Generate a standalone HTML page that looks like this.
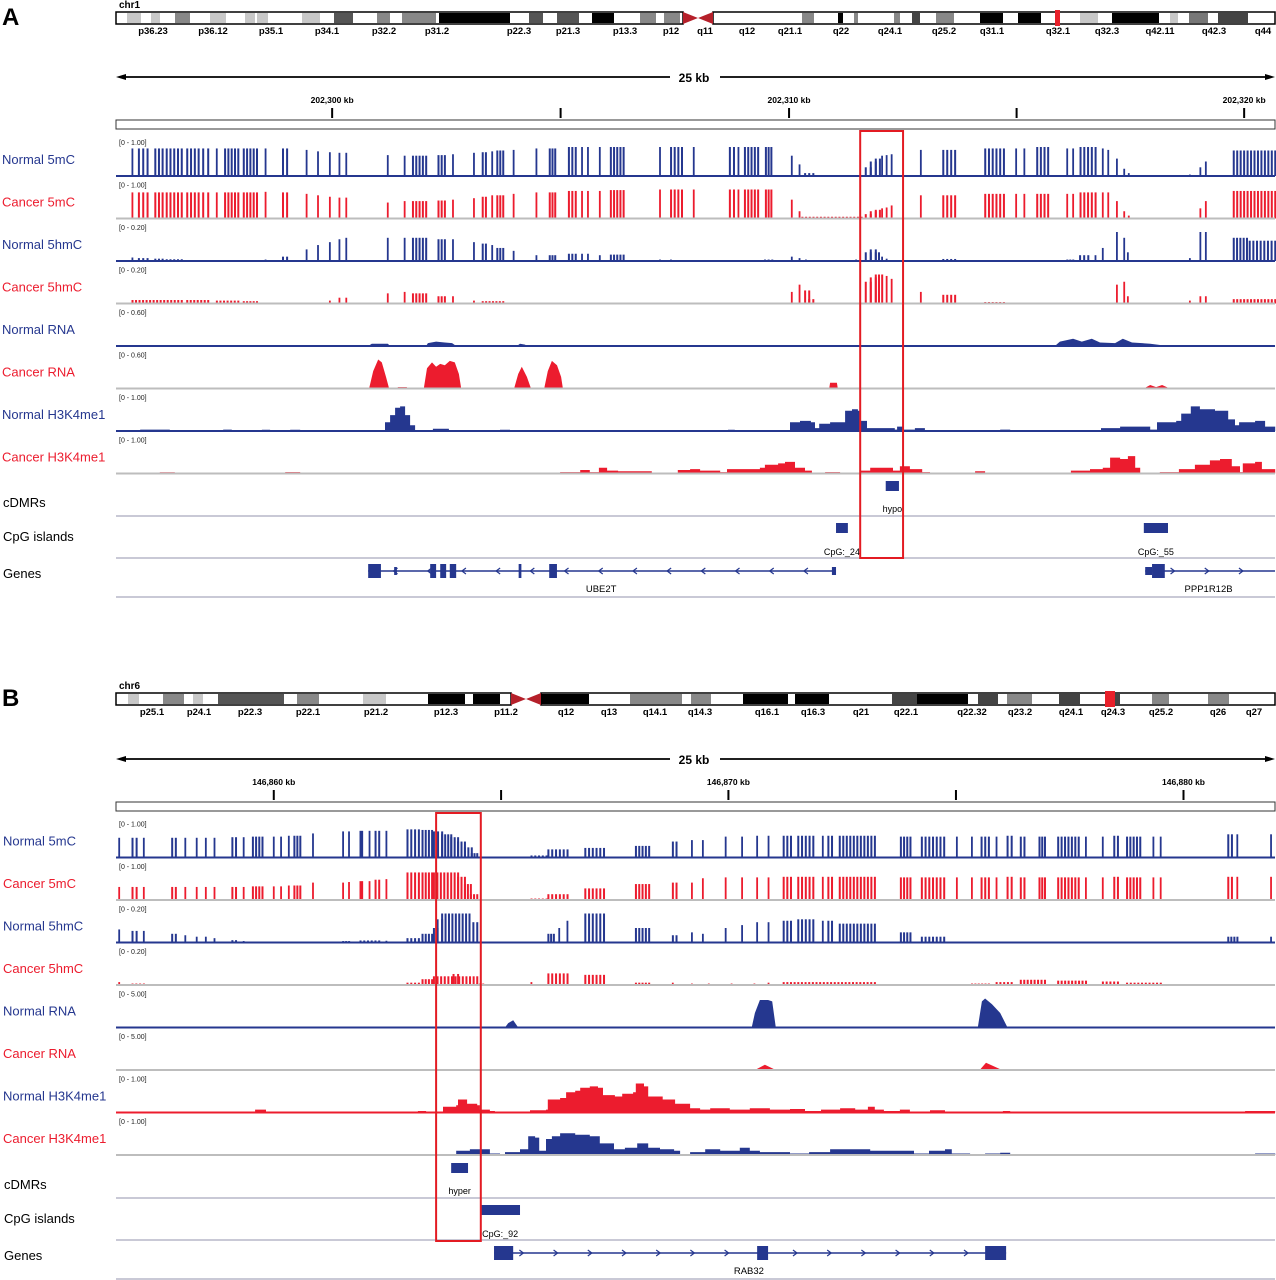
<!DOCTYPE html>
<html><head><meta charset="utf-8">
<style>
html,body{margin:0;padding:0;background:#fff;}
svg{display:block;font-family:"Liberation Sans",Arial,sans-serif;}
</style></head>
<body>
<svg id="fig" width="1276" height="1280" viewBox="0 0 1276 1280" xmlns="http://www.w3.org/2000/svg">
<rect x="0" y="0" width="1276" height="1280" fill="#fff"/>
<text x="2" y="25" font-size="24" font-weight="bold">A</text>
<text x="2" y="706" font-size="24" font-weight="bold">B</text>
<g id="root"></g>
</svg>
<script>
// ===== DATA (positions in kb from left edge of view, values as fraction of track range) =====
const rulerA = ["202,300 kb","202,310 kb","202,320 kb"];
const rulerAKb = [4.74,14.76,24.74];
const rulerB = ["146,860 kb","146,870 kb","146,880 kb"];
const rulerBKb = [3.46,13.43,23.41];
const trackNamesA = ["Normal 5mC","Cancer 5mC","Normal 5hmC","Cancer 5hmC","Normal RNA","Cancer RNA","Normal H3K4me1","Cancer H3K4me1"];
const trackRangesA = ["[0 - 1.00]","[0 - 1.00]","[0 - 0.20]","[0 - 0.20]","[0 - 0.60]","[0 - 0.60]","[0 - 1.00]","[0 - 1.00]"];
const trackNamesB = ["Normal 5mC","Cancer 5mC","Normal 5hmC","Cancer 5hmC","Normal RNA","Cancer RNA","Normal H3K4me1","Cancer H3K4me1"];
const trackRangesB = ["[0 - 1.00]","[0 - 1.00]","[0 - 0.20]","[0 - 0.20]","[0 - 5.00]","[0 - 5.00]","[0 - 1.00]","[0 - 1.00]"];

const normal5mcA = [[.36,.36,.95],[.50,.69,.95],[.86,1.02,.95],[1.11,1.44,.95],[1.56,1.81,.95],[1.91,2.02,.95],[2.21,2.21,.95],[2.39,2.68,.95],[2.80,3.09,.95],[3.28,3.28,.95],[3.66,3.75,.95],[4.18,4.18,.9],[4.43,4.43,.85],[4.69,4.69,.82],[4.90,4.90,.8],[5.05,5.05,.8],[5.96,5.96,.72],[6.33,6.33,.7],[6.51,6.80,.7],[7.07,7.21,.72],[7.39,7.39,.75],[7.85,7.85,.8],[8.04,8.11,.82],[8.25,8.25,.85],[8.36,8.49,.88],[8.72,8.72,.9],[9.22,9.22,.95],[9.51,9.63,.95],[9.93,10.08,1],[10.22,10.22,1],[10.35,10.35,1],[10.61,10.61,1],[10.85,11.13,1],[11.93,11.93,1],[12.17,12.41,1],[12.67,12.67,1],[13.46,13.55,1],[13.65,13.65,1],[13.79,14.08,1],[14.25,14.37,1],[14.82,14.82,.7],[14.99,14.99,.4],[15.11,15.29,.1],[16.44,16.55,.3],[16.55,16.66,.5],[16.66,16.75,.6],[16.80,16.80,.7],[16.90,16.90,.72],[17.01,17.01,.75],[17.65,17.65,.9],[18.14,18.40,.9],[19.06,19.47,.95],[19.74,19.74,.95],[19.92,19.92,.95],[20.20,20.44,1],[20.86,20.86,.95],[20.99,20.99,.95],[21.15,21.48,1],[21.64,21.64,.95],[21.76,21.76,.9],[21.95,21.95,.6],[22.11,22.11,.25],[22.21,22.21,.1],[23.55,23.55,.05],[23.78,23.78,.3],[23.90,23.90,.5],[24.51,25.42,.88]];
const cancer5mcA = [[.36,.36,.9],[.50,.69,.9],[.86,1.02,.9],[1.11,1.44,.9],[1.56,1.81,.9],[1.91,2.02,.9],[2.21,2.21,.9],[2.39,2.68,.9],[2.80,3.09,.9],[3.28,3.28,.92],[3.66,3.75,.9],[4.18,4.18,.85],[4.43,4.43,.8],[4.69,4.69,.75],[4.90,4.90,.72],[5.05,5.05,.72],[5.96,5.96,.55],[6.33,6.33,.6],[6.51,6.80,.6],[7.07,7.21,.62],[7.39,7.39,.65],[7.85,7.85,.7],[8.04,8.11,.75],[8.25,8.25,.8],[8.36,8.49,.8],[8.72,8.72,.85],[9.22,9.22,.9],[9.51,9.63,.9],[9.93,10.08,.95],[10.22,10.22,.95],[10.35,10.35,.95],[10.61,10.61,.95],[10.85,11.13,.98],[11.93,11.93,1],[12.17,12.41,1],[12.67,12.67,1],[13.46,13.55,1],[13.65,13.65,1],[13.79,14.08,1],[14.25,14.37,1],[14.82,14.82,.65],[14.99,14.99,.25],[15.05,16.35,.06],[16.44,16.55,.15],[16.55,16.66,.25],[16.66,16.75,.3],[16.80,16.80,.35],[16.90,16.90,.38],[17.01,17.01,.45],[17.65,17.65,.8],[18.14,18.40,.8],[19.06,19.47,.85],[19.74,19.74,.85],[19.92,19.92,.85],[20.20,20.44,.85],[20.86,20.86,.85],[20.99,20.99,.85],[21.15,21.48,.9],[21.64,21.64,.9],[21.76,21.76,.9],[21.95,21.95,.6],[22.11,22.11,.25],[22.21,22.21,.1],[23.55,23.55,.03],[23.78,23.78,.35],[23.90,23.90,.6],[24.51,25.42,.95]];
const normal5hmcA = [[.36,.36,.12],[.50,.69,.1],[.86,1.02,.08],[1.11,1.44,.06],[3.28,3.28,.05],[3.66,3.75,.15],[4.18,4.18,.4],[4.43,4.43,.55],[4.69,4.69,.65],[4.90,4.90,.75],[5.05,5.05,.8],[5.96,5.96,.8],[6.33,6.33,.8],[6.51,6.80,.8],[7.07,7.21,.75],[7.39,7.39,.75],[7.85,7.85,.65],[8.04,8.11,.6],[8.25,8.25,.55],[8.36,8.49,.45],[8.72,8.72,.35],[9.22,9.22,.2],[9.51,9.63,.2],[9.93,10.08,.25],[10.22,10.22,.25],[10.35,10.35,.25],[10.61,10.61,.2],[10.85,11.13,.22],[11.93,11.93,.05],[12.17,12.17,.05],[14.23,14.39,.05],[14.82,14.82,.15],[14.99,14.99,.1],[15.13,15.13,.05],[16.23,16.23,.05],[16.44,16.55,.3],[16.55,16.66,.4],[16.66,16.73,.3],[16.80,16.80,.15],[16.90,16.90,.08],[18.14,18.40,.07],[19.06,19.06,.03],[20.86,20.99,.05],[21.14,21.32,.2],[21.48,21.48,.2],[21.64,21.64,.45],[21.95,21.95,1.0],[22.11,22.11,.8],[22.19,22.19,.3],[23.55,23.55,.1],[23.78,23.78,1.0],[23.90,23.90,1.0],[24.51,24.80,.8],[24.86,25.42,.7]];
const cancer5hmcA = [[.36,1.44,.12],[1.56,2.02,.12],[2.21,2.68,.1],[2.80,3.09,.08],[3.66,3.75,.03],[4.43,4.43,.03],[4.69,4.69,.1],[4.90,4.90,.2],[5.05,5.05,.2],[5.96,5.96,.35],[6.33,6.33,.4],[6.51,6.80,.35],[7.07,7.21,.25],[7.39,7.39,.25],[7.85,7.85,.1],[8.04,8.49,.08],[8.72,8.72,.03],[14.82,14.82,.4],[14.99,14.99,.65],[15.11,15.20,.45],[15.20,15.29,.15],[16.44,16.55,.75],[16.55,16.66,.9],[16.66,16.80,1.0],[16.90,16.90,.95],[17.01,17.01,.85],[17.65,17.65,.4],[18.14,18.40,.3],[19.06,19.47,.05],[21.95,21.95,.65],[22.11,22.11,.75],[22.19,22.19,.25],[23.40,23.40,.03],[23.55,23.55,.1],[23.78,23.78,.25],[23.90,23.90,.25],[24.51,25.42,.15]];
const normalRnaA = [[5.53,0],[5.61,.08],[5.96,.08],[6.01,0],[6.80,0],[6.84,.1],[7.02,.15],[7.21,.12],[7.37,.1],[7.46,0],[8.79,0],[8.86,.08],[8.97,.05],[9.01,0],[20.59,0],[20.70,.15],[20.99,.25],[21.18,.15],[21.40,.25],[21.58,.12],[21.91,.1],[22.08,.25],[22.28,.12],[22.68,.08],[23.07,0]];
const cancerRnaA = [[5.55,0],[5.64,.6],[5.75,1.0],[5.83,.9],[5.92,.4],[5.99,0],[6.18,0],[6.18,.05],[6.38,.05],[6.38,0],[6.75,0],[6.82,.7],[6.93,.9],[7.02,.75],[7.11,.85],[7.21,.8],[7.32,.95],[7.43,.9],[7.52,.5],[7.57,0],[8.73,0],[8.82,.5],[8.90,.75],[9.01,.4],[9.10,0],[9.39,0],[9.47,.6],[9.56,.95],[9.67,.8],[9.76,.4],[9.80,0],[15.64,0],[15.66,.2],[15.81,.2],[15.83,0],[22.54,0],[22.68,.12],[22.81,.05],[22.94,.12],[23.11,0]];
const normalH3A = [[0,0],[.53,.05],[.96,.05],[1.18,0],[2.35,.05],[2.54,0],[3.20,.04],[3.38,0],[3.82,.04],[4.04,0],[4.69,.03],[5.02,0],[5.86,0],[5.90,.3],[6.01,.55],[6.12,.8],[6.23,.85],[6.34,.55],[6.45,.2],[6.56,0],[6.95,.08],[7.26,.08],[7.30,0],[8.42,.04],[8.64,0],[13.36,0],[13.42,.04],[13.57,0],[14.69,0],[14.78,.3],[15.00,.35],[15.24,.3],[15.33,.1],[15.42,.25],[15.66,.3],[15.88,.3],[15.99,.7],[16.14,.75],[16.27,.7],[16.32,.35],[16.47,.1],[16.75,.1],[17.08,.05],[17.13,.15],[17.26,.05],[17.52,.1],[17.74,0],[19.39,.05],[19.61,0],[21.60,.1],[22.02,.15],[22.46,.15],[22.68,.05],[22.83,.3],[23.25,.35],[23.36,.6],[23.57,.85],[23.77,.75],[24.10,.7],[24.39,.4],[24.54,.2],[24.63,.3],[24.98,.35],[25.20,.15],[25.42,.1]];
const cancerH3A = [[0,.03],[.20,0],[.96,.04],[1.29,0],[3.71,.05],[4.04,0],[9.58,0],[9.74,.05],[10.07,.05],[10.18,.12],[10.39,.05],[10.59,.2],[10.77,.1],[11.01,.08],[11.49,.08],[11.75,0],[12.32,.12],[12.59,.15],[12.81,.1],[13.25,.05],[13.40,.15],[13.79,.15],[14.12,.2],[14.23,.3],[14.52,.35],[14.67,.4],[14.89,.2],[15.11,.1],[15.26,0],[15.55,.05],[15.88,0],[16.32,.1],[16.54,.2],[16.75,.2],[17.04,.1],[17.19,.25],[17.41,.15],[17.68,.05],[17.85,0],[18.84,.08],[19.06,0],[20.94,.1],[21.36,.15],[21.64,.2],[21.80,.55],[22.02,.5],[22.19,.6],[22.35,.2],[22.46,0],[22.89,.05],[23.31,.15],[23.66,.3],[23.99,.45],[24.21,.5],[24.47,.25],[24.65,.05],[24.71,.35],[24.98,.4],[25.13,.15],[25.42,.1]];

const normal5mcB = [[.07,.07,.68],[.36,.45,.68],[.61,.61,.68],[1.23,1.31,.68],[1.52,1.52,.68],[1.77,1.77,.68],[1.97,1.97,.68],[2.16,2.16,.68],[2.55,2.63,.7],[2.80,2.80,.7],[3.00,3.21,.72],[3.46,3.46,.72],[3.62,3.62,.72],[3.79,3.79,.75],[3.91,4.04,.75],[4.32,4.32,.83],[4.98,4.98,.9],[5.11,5.11,.9],[5.36,5.40,.92],[5.56,5.56,.92],[5.69,5.77,.92],[5.93,5.93,.92],[6.39,6.64,.97],[6.72,6.93,.95],[6.97,7.15,.9],[7.15,7.35,.8],[7.35,7.50,.7],[7.50,7.65,.55],[7.65,7.80,.35],[7.80,7.92,.15],[9.11,9.44,.07],[9.48,9.90,.28],[10.29,10.70,.33],[11.40,11.69,.4],[12.21,12.29,.55],[12.63,12.63,.6],[12.87,12.87,.6],[13.37,13.37,.72],[13.73,13.73,.72],[14.06,14.06,.75],[14.31,14.31,.75],[14.64,14.80,.75],[14.96,15.29,.75],[15.50,15.50,.75],[15.62,15.70,.75],[15.87,16.64,.75],[17.21,17.42,.72],[17.67,18.16,.72],[18.44,18.44,.72],[18.77,18.77,.72],[18.98,19.14,.72],[19.31,19.31,.72],[19.55,19.64,.75],[19.84,19.92,.72],[20.25,20.37,.72],[20.66,21.11,.72],[21.27,21.27,.72],[21.64,21.64,.72],[21.89,21.97,.75],[22.17,22.46,.72],[22.75,22.75,.72],[22.91,22.91,.72],[24.39,24.47,.8],[24.59,24.59,.8],[25.33,25.33,.8]];
const cancer5mcB = [[.07,.07,.45],[.36,.45,.45],[.61,.61,.45],[1.23,1.31,.45],[1.52,1.52,.45],[1.77,1.77,.45],[1.97,1.97,.45],[2.16,2.16,.45],[2.55,2.63,.45],[2.80,2.80,.45],[3.00,3.21,.47],[3.46,3.46,.47],[3.62,3.62,.47],[3.79,3.79,.5],[3.91,4.04,.5],[4.32,4.32,.6],[4.98,4.98,.6],[5.11,5.11,.62],[5.36,5.40,.65],[5.56,5.56,.65],[5.69,5.77,.7],[5.93,5.93,.72],[6.39,6.64,.95],[6.72,6.93,.95],[6.97,7.50,.95],[7.50,7.65,.8],[7.65,7.78,.55],[7.78,7.92,.2],[9.11,9.44,.05],[9.48,9.90,.2],[10.29,10.70,.4],[11.40,11.69,.55],[12.21,12.29,.6],[12.63,12.63,.6],[12.87,12.87,.75],[13.37,13.37,.78],[13.73,13.73,.78],[14.06,14.06,.78],[14.31,14.31,.78],[14.64,14.80,.8],[14.96,15.29,.8],[15.50,15.50,.8],[15.62,15.70,.8],[15.87,16.64,.8],[17.21,17.42,.78],[17.67,18.16,.78],[18.44,18.44,.78],[18.77,18.77,.78],[18.98,19.14,.78],[19.31,19.31,.78],[19.55,19.64,.8],[19.84,19.92,.78],[20.25,20.37,.78],[20.66,21.11,.78],[21.27,21.27,.78],[21.64,21.64,.78],[21.89,21.97,.8],[22.17,22.46,.78],[22.75,22.75,.78],[22.91,22.91,.78],[24.39,24.47,.8],[24.59,24.59,.8],[25.33,25.33,.8]];
const normal5hmcB = [[.07,.07,.45],[.36,.45,.4],[.61,.61,.4],[1.23,1.31,.3],[1.52,1.52,.25],[1.77,1.77,.2],[1.97,1.97,.2],[2.16,2.16,.15],[2.55,2.63,.08],[2.80,2.80,.05],[4.32,4.32,.03],[4.98,5.11,.05],[5.36,5.77,.07],[5.93,5.93,.06],[6.39,6.64,.15],[6.72,6.93,.3],[6.97,7.05,.5],[7.05,7.15,.8],[7.15,7.75,1.0],[7.75,7.92,.7],[9.48,9.60,.3],[9.72,9.72,.5],[9.90,9.90,.75],[10.29,10.70,1.0],[11.40,11.69,.5],[12.21,12.29,.25],[12.63,12.63,.35],[12.87,12.87,.3],[13.37,13.37,.5],[13.73,13.73,.6],[14.06,14.06,.7],[14.31,14.31,.7],[14.64,14.80,.75],[14.96,15.29,.8],[15.50,15.50,.75],[15.62,15.70,.75],[15.87,16.64,.65],[17.21,17.42,.35],[17.67,18.16,.2],[18.44,18.44,.03],[20.66,21.64,.03],[24.39,24.59,.2],[25.33,25.33,.2]];
const cancer5hmcB = [[.07,.07,.1],[.36,.61,.05],[1.23,1.23,.03],[6.39,6.64,.08],[6.72,6.93,.2],[6.97,7.92,.3],[7.40,7.50,.38],[7.92,8.05,.05],[9.11,9.11,.1],[9.48,9.90,.4],[10.29,10.70,.35],[11.40,11.69,.08],[12.21,12.21,.08],[12.63,12.63,.05],[13.00,13.00,.05],[13.50,13.50,.05],[14.00,14.00,.05],[14.31,14.31,.08],[14.64,16.64,.1],[18.77,19.14,.05],[19.31,19.64,.1],[19.84,20.37,.18],[20.66,21.27,.15],[21.64,21.97,.12],[22.17,22.91,.08]];
const normalRnaB = [[8.53,0],[8.60,.15],[8.71,.25],[8.82,0],[13.94,0],[14.01,.5],[14.12,.95],[14.30,.95],[14.39,.9],[14.47,0],[18.90,0],[18.99,.9],[19.06,1.0],[19.21,.8],[19.39,.5],[19.55,0]];
const cancerRnaB = [[14.01,0],[14.23,.18],[14.47,0],[18.94,0],[19.08,.25],[19.43,0]];
const normalH3B = [[0,0],[2.96,0],[3.05,.1],[3.20,.1],[3.29,0],[6.56,0],[6.62,.05],[6.80,0],[7.13,0],[7.17,.2],[7.46,.25],[7.50,.45],[7.63,.45],[7.70,.3],[7.92,.25],[7.98,.1],[8.20,.05],[8.31,0],[8.95,0],[9.08,.08],[9.43,.1],[9.47,.45],[9.74,.5],[9.87,.7],[10.07,.75],[10.18,.85],[10.39,.9],[10.57,.85],[10.68,.6],[10.94,.55],[11.10,.65],[11.34,.7],[11.40,1.0],[11.58,.9],[11.67,.55],[11.99,.45],[12.26,.3],[12.59,.15],[12.81,.1],[13.03,.15],[13.46,.1],[13.90,.15],[14.34,.1],[14.78,.12],[15.11,.05],[15.46,.1],[15.88,.15],[16.21,.1],[16.49,.2],[16.64,.1],[16.84,.05],[17.19,.1],[17.41,0],[17.85,.08],[18.18,0],[19.45,.05],[19.61,0],[24.65,0],[24.76,.05],[25.42,.05]];
const cancerH3B = [[0,0],[1.73,0],[1.80,.03],[1.91,0],[2.72,.03],[2.83,0],[4.47,.03],[4.69,0],[4.91,.03],[5.02,0],[7.37,0],[7.46,.15],[7.76,.2],[8.20,.05],[8.42,0],[8.53,.1],[8.86,.2],[9.04,.65],[9.19,.6],[9.28,.15],[9.43,.55],[9.56,.65],[9.74,.75],[10.07,.7],[10.39,.65],[10.61,.4],[10.92,.2],[11.16,.25],[11.43,.4],[11.67,.25],[11.93,.2],[12.24,.15],[12.37,0],[12.59,.1],[12.92,.2],[13.25,.15],[13.68,.25],[13.90,.15],[14.12,.1],[14.78,.05],[15.20,.1],[15.66,.2],[16.10,.2],[16.54,.15],[16.97,.15],[17.50,.05],[17.83,.15],[18.18,.2],[18.33,.05],[18.73,.03],[19.06,.05],[19.39,.08],[19.61,0],[24.87,0],[24.98,.05],[25.42,.05]];

// annotations
const cdmrA = [[16.88,17.17,"hypo"]];
const cpgA = [[15.79,16.05,"CpG:_24"],[22.54,23.07,"CpG:_55"]];
const genesA = [{name:"UBE2T",start:5.53,end:15.79,dir:-1,exons:[[5.53,5.81,1],[6.10,6.16,0],[6.89,7.02,1],[7.11,7.24,1],[7.32,7.46,1],[8.83,8.89,1],[9.50,9.67,1],[15.70,15.79,0]],labelKb:10.64},
                {name:"PPP1R12B",start:22.57,end:25.42,dir:1,exons:[[22.57,22.72,0],[22.72,23.00,1]],labelKb:23.96}];
const dmrBoxA = [16.32,17.26];
const cdmrB = [[7.35,7.72,"hyper"]];
const cpgB = [[7.99,8.86,"CpG:_92"]];
const genesB = [{name:"RAB32",start:8.29,end:19.52,dir:1,exons:[[8.29,8.71,1],[14.06,14.30,1],[19.06,19.52,1]],labelKb:13.88}];
const dmrBoxB = [7.02,8.0];

// ideogram bands [start,end,color] in ideogram units (0..1159 across ideogram)
const bandsA = [[11,25,"#c8c8c8"],[29,36,"#fff"],[35,44,"#c8c8c8"],[59,74,"#888"],[94,110,"#c8c8c8"],[129,139,"#c8c8c8"],[141,152,"#c8c8c8"],[186,204,"#c8c8c8"],[218,237,"#555"],[261,274,"#888"],[286,320,"#888"],[323,394,"#000"],[413,427,"#555"],[441,463,"#555"],[476,498,"#000"],[524,540,"#888"],[548,564,"#888"],[686,698,"#888"],[722,727,"#000"],[738,742,"#888"],[778,784,"#888"],[796,804,"#444"],[820,838,"#888"],[864,887,"#000"],[902,925,"#000"],[964,982,"#c8c8c8"],[996,1043,"#000"],[1054,1062,"#c8c8c8"],[1073,1092,"#777"],[1102,1132,"#444"]];
const centA = [567,597];
const redMarkA = [939,944];
const bandLabelsA = [["p36.23",37],["p36.12",97],["p35.1",155],["p34.1",211],["p32.2",268],["p31.2",321],["p22.3",403],["p21.3",452],["p13.3",509],["p12",555],["q11",589],["q12",631],["q21.1",674],["q22",725],["q24.1",774],["q25.2",828],["q31.1",876],["q32.1",942],["q32.3",991],["q42.11",1044],["q42.3",1098],["q44",1147]];
const bandsB = [[12,23,"#c8c8c8"],[47,68,"#888"],[77,87,"#c8c8c8"],[102,168,"#555"],[181,203,"#888"],[216,224,"#fff"],[247,270,"#c8c8c8"],[312,349,"#000"],[357,384,"#000"],[425,473,"#000"],[514,566,"#888"],[575,595,"#888"],[627,672,"#000"],[679,713,"#000"],[776,801,"#444"],[801,852,"#000"],[862,882,"#444"],[891,916,"#888"],[943,964,"#444"],[999,1004,"#444"],[1036,1053,"#888"],[1092,1113,"#888"]];
const centB = [395,425];
const redMarkB = [989,999];
const bandLabelsB = [["p25.1",36],["p24.1",83],["p22.3",134],["p22.1",192],["p21.2",260],["p12.3",330],["p11.2",390],["q12",450],["q13",493],["q14.1",539],["q14.3",584],["q16.1",651],["q16.3",697],["q21",745],["q22.1",790],["q22.32",856],["q23.2",904],["q24.1",955],["q24.3",997],["q25.2",1045],["q26",1102],["q27",1138]];

// ===== RENDERING =====
const NS = "http://www.w3.org/2000/svg";
const root = document.getElementById("root");
const X0 = 116, PXKB = 45.6, XR = 1275;
const X = kb => X0 + kb * PXKB;
const BLUE = "#25378f", RED = "#ec1c2e", GRAY = "#bdbdbd";
function el(tag, attrs, parent, text) {
  const e = document.createElementNS(NS, tag);
  for (const k in attrs) e.setAttribute(k, attrs[k]);
  if (text !== undefined) e.textContent = text;
  (parent || root).appendChild(e);
  return e;
}

function ideogram(y, chrName, bands, cent, redMark, labels, prefix) {
  const g = el("g", {});
  
  
  const I = u => X0 + u;
  const t = el("text", {x: 119, y: y - 4, "font-size": 10, "font-weight": "bold"}, g, chrName);
  
  
  el("rect", {x: I(0), y: y, width: cent[0], height: 12, fill: "#fff", stroke: "#000", "stroke-width": 1.5}, g);
  el("rect", {x: I(cent[1]), y: y, width: 1159 - cent[1], height: 12, fill: "#fff", stroke: "#000", "stroke-width": 1.5}, g);
  bands.forEach(b => {
    const r = el("rect", {x: I(b[0]), y: y + 1, width: b[1] - b[0], height: 10, fill: b[2]}, g);
    
    
  });
  const m = (cent[0] + cent[1]) / 2;
  el("polygon", {points: `${I(cent[0])},${y} ${I(m)},${y+6} ${I(cent[0])},${y+12}`, fill: "#b5202a"}, g);
  el("polygon", {points: `${I(cent[1])},${y} ${I(m)},${y+6} ${I(cent[1])},${y+12}`, fill: "#b5202a"}, g);
  const rm = el("rect", {x: I(redMark[0]), y: y - 2, width: redMark[1] - redMark[0], height: 16, fill: "#e8202a"}, g);
  
  
  labels.forEach(l => {
    const tx = el("text", {x: I(l[1]), y: y + 22, "font-size": 9.5, "font-weight": "bold", "text-anchor": "middle"}, g, l[0]);
    
    
  });
}

function scaleAndRuler(yArrow, yLab, ticks, tickKb, prefix) {
  const g = el("g", {});
  
  
  el("line", {x1: X0 + 4, y1: yArrow, x2: 670, y2: yArrow, stroke: "#000", "stroke-width": 1.8}, g);
  el("line", {x1: 720, y1: yArrow, x2: XR - 4, y2: yArrow, stroke: "#000", "stroke-width": 1.8}, g);
  el("polygon", {points: `${X0},${yArrow} ${X0+10},${yArrow-3} ${X0+10},${yArrow+3}`, fill: "#000"}, g);
  el("polygon", {points: `${XR},${yArrow} ${XR-10},${yArrow-3} ${XR-10},${yArrow+3}`, fill: "#000"}, g);
  const sc = el("text", {x: 694, y: yArrow + 5, "font-size": 12, "font-weight": "bold", "text-anchor": "middle"}, g, "25 kb");
  
  
  ticks.forEach((t, i) => {
    const tx = el("text", {x: X(tickKb[i]), y: yLab, "font-size": 8.5, "font-weight": "bold", "text-anchor": "middle"}, g, t);
    
    
  });
  const mids = [];
  for (let i = 0; i < tickKb.length; i++) { mids.push(tickKb[i]); if (i < tickKb.length - 1) mids.push((tickKb[i] + tickKb[i+1]) / 2); }
  mids.forEach(k => el("line", {x1: X(k), y1: yLab + 5, x2: X(k), y2: yLab + 15, stroke: "#000", "stroke-width": 2}, g));
  el("rect", {x: X0, y: yLab + 17, width: XR - X0, height: 9, fill: "#fff", stroke: "#333", "stroke-width": 1}, g);
}

function barTrack(g, base, data, color) {
  data.forEach(d => {
    const x1 = X(d[0]), x2 = X(d[1]);
    const h = d[2] * 29;
    const span = x2 - x1;
    if (span <= 3) {
      const r = el("rect", {x: x1 - 0.9, y: base - h, width: Math.max(1.8, span + 1.8), height: h, fill: color}, g);
      
      
    } else {
      const n = Math.max(2, Math.round(span / 3.6) + 1);
      for (let j = 0; j < n; j++) {
        const xx = x1 + span * j / (n - 1);
        const r = el("rect", {x: xx - 0.9, y: base - h, width: 2, height: h, fill: color}, g);
        
        
      }
    }
  });
}
function areaTrack(g, base, pts, color, step) {
  let d = `M${X(pts[0][0]).toFixed(1)},${base}`;
  let prevY = base;
  pts.forEach(p => {
    const x = X(p[0]).toFixed(1), y = (base - p[1] * 29).toFixed(1);
    if (step) d += ` L${x},${prevY}`;
    d += ` L${x},${y}`;
    prevY = y;
  });
  d += ` L${X(pts[pts.length-1][0]).toFixed(1)},${base} Z`;
  const p = el("path", {d: d, fill: color}, g);
  
  
}

function panel(cfg) {
  ideogram(cfg.ideoY, cfg.chr, cfg.bands, cfg.cent, cfg.red, cfg.bandLabels, cfg.p);
  scaleAndRuler(cfg.arrowY, cfg.rulerLabY, cfg.ticks, cfg.tickKb, cfg.p);
  cfg.tracks.forEach((t, i) => {
    const base = cfg.base0 + i * 42.5;
    const g = el("g", {});
    
    
    const lab = el("text", {x: cfg.labX, y: base - 12, "font-size": 13, fill: t.labColor}, g, t.name);
    
    
    const rg = el("text", {x: 119, y: base - 31, "font-size": 7, fill: "#222"}, g, t.range);
    
    
    if (t.type === "bar") barTrack(g, base, t.data, t.color);
    else areaTrack(g, base, t.data, t.color, t.type === "step");
    el("line", {x1: X0, y1: base, x2: XR, y2: base, stroke: t.line, "stroke-width": 2}, g);
  });
  const a = cfg.annY;
  const ag = el("g", {});
  
  
  [["cDMRs", a + 33], ["CpG islands", a + 67], ["Genes", a + 104]].forEach(l => {
    const t = el("text", {x: cfg.labX + 1, y: l[1], "font-size": 13, fill: "#000"}, ag, l[0]);
    
    
  });
  [a + 42, a + 84, a + 123].forEach(y => el("line", {x1: X0, y1: y, x2: XR, y2: y, stroke: "#c9c9d6", "stroke-width": 2}, ag));
  cfg.cdmr.forEach(c => {
    const r = el("rect", {x: X(c[0]), y: a + 7, width: X(c[1]) - X(c[0]), height: 10, fill: BLUE}, ag);
    
    
    el("text", {x: (X(c[0]) + X(c[1])) / 2, y: a + 38, "font-size": 9, "text-anchor": "middle"}, ag, c[2]);
  });
  cfg.cpg.forEach(c => {
    const r = el("rect", {x: X(c[0]), y: a + 49, width: X(c[1]) - X(c[0]), height: 10, fill: BLUE}, ag);
    
    
    el("text", {x: (X(c[0]) + X(c[1])) / 2, y: a + 81, "font-size": 9, "text-anchor": "middle"}, ag, c[2]);
  });
  const gy = a + 97;
  cfg.genes.forEach(gn => {
    const gg = el("g", {}, ag);
    
    
    el("line", {x1: X(gn.start), y1: gy, x2: Math.min(X(gn.end), XR), y2: gy, stroke: BLUE, "stroke-width": 1.5}, gg);
    for (let k = gn.start + 0.6; k < gn.end - 0.3; k += 0.75) {
      const x = X(k);
      el("polyline", {points: `${x - 2*gn.dir},${gy-3} ${x + 2*gn.dir},${gy} ${x - 2*gn.dir},${gy+3}`, fill: "none", stroke: BLUE, "stroke-width": 1.2}, gg);
    }
    gn.exons.forEach(e => {
      const h = e[2] ? 14 : 8;
      el("rect", {x: X(e[0]), y: gy - h / 2, width: Math.max(2, X(e[1]) - X(e[0])), height: h, fill: BLUE}, gg);
    });
    el("text", {x: X(gn.labelKb), y: gy + 21, "font-size": 9.5, "text-anchor": "middle"}, gg, gn.name);
  });
  const box = el("rect", {x: X(cfg.box[0]), y: cfg.boxY[0], width: X(cfg.box[1]) - X(cfg.box[0]), height: cfg.boxY[1] - cfg.boxY[0], fill: "none", stroke: "#e31b23", "stroke-width": 2}, root);
  
  
}

const N = (name, range, color, labColor, line, type, data) => ({name, range, color, labColor, line, type, data});
panel({p: "panel-a", chr: "chr1", ideoY: 12, bands: bandsA, cent: centA, red: redMarkA, bandLabels: bandLabelsA,
  arrowY: 77, rulerLabY: 103, ticks: rulerA, tickKb: rulerAKb, base0: 176, labX: 2, annY: 474,
  tracks: [
    N(trackNamesA[0], trackRangesA[0], BLUE, BLUE, BLUE, "bar", normal5mcA),
    N(trackNamesA[1], trackRangesA[1], RED, RED, GRAY, "bar", cancer5mcA),
    N(trackNamesA[2], trackRangesA[2], BLUE, BLUE, BLUE, "bar", normal5hmcA),
    N(trackNamesA[3], trackRangesA[3], RED, RED, GRAY, "bar", cancer5hmcA),
    N(trackNamesA[4], trackRangesA[4], BLUE, BLUE, BLUE, "area", normalRnaA),
    N(trackNamesA[5], trackRangesA[5], RED, RED, GRAY, "area", cancerRnaA),
    N(trackNamesA[6], trackRangesA[6], BLUE, BLUE, BLUE, "step", normalH3A),
    N(trackNamesA[7], trackRangesA[7], RED, RED, GRAY, "step", cancerH3A)],
  cdmr: cdmrA, cpg: cpgA, genes: genesA, box: dmrBoxA, boxY: [131, 558]});
panel({p: "panel-b", chr: "chr6", ideoY: 693, bands: bandsB, cent: centB, red: redMarkB, bandLabels: bandLabelsB,
  arrowY: 759, rulerLabY: 785, ticks: rulerB, tickKb: rulerBKb, base0: 857.5, labX: 3, annY: 1156,
  tracks: [
    N(trackNamesB[0], trackRangesB[0], BLUE, BLUE, BLUE, "bar", normal5mcB),
    N(trackNamesB[1], trackRangesB[1], RED, RED, GRAY, "bar", cancer5mcB),
    N(trackNamesB[2], trackRangesB[2], BLUE, BLUE, BLUE, "bar", normal5hmcB),
    N(trackNamesB[3], trackRangesB[3], RED, RED, GRAY, "bar", cancer5hmcB),
    N(trackNamesB[4], trackRangesB[4], BLUE, BLUE, BLUE, "area", normalRnaB),
    N(trackNamesB[5], trackRangesB[5], RED, RED, GRAY, "area", cancerRnaB),
    N(trackNamesB[6], trackRangesB[6], RED, BLUE, RED, "step", normalH3B),
    N(trackNamesB[7], trackRangesB[7], BLUE, RED, GRAY, "step", cancerH3B)],
  cdmr: cdmrB, cpg: cpgB, genes: genesB, box: dmrBoxB, boxY: [813, 1241]});
</script>
</body></html>
